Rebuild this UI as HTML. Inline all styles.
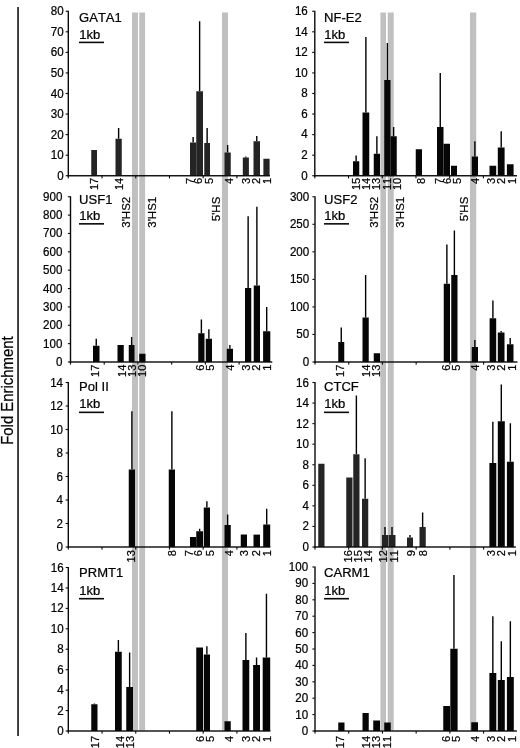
<!DOCTYPE html>
<html lang="en"><head><meta charset="utf-8"><title>Fold Enrichment</title>
<style>html,body{margin:0;padding:0;background:#fff}svg{display:block;will-change:transform}text{stroke:#000;stroke-width:0.22px;font-kerning:none}</style>
</head><body>
<svg width="520" height="748" viewBox="0 0 520 748" font-family='"Liberation Sans", Arial, sans-serif' fill="#000">
<rect width="520" height="748" fill="#fff"/>
<rect x="17.2" y="7" width="1.7" height="729" fill="#222"/>
<text transform="translate(13.4,390.6) scale(1.06,1) rotate(-90)" text-anchor="middle" font-size="14.9">Fold Enrichment</text>
<rect x="132" y="12.5" width="6" height="717.8" fill="#c0c0c0"/>
<rect x="139.2" y="12.5" width="5.900000000000006" height="717.8" fill="#c0c0c0"/>
<rect x="222" y="12.5" width="6" height="717.8" fill="#c0c0c0"/>
<rect x="380.4" y="12.5" width="5.600000000000023" height="717.8" fill="#c0c0c0"/>
<rect x="387.75" y="12.5" width="6.0" height="717.8" fill="#c0c0c0"/>
<rect x="470" y="12.5" width="6.25" height="717.8" fill="#c0c0c0"/>
<g>
<rect x="91.25" y="150" width="5.75" height="25.75" fill="#242424"/>
<rect x="117.92" y="128" width="1.4" height="10.75" fill="#000"/>
<rect x="115.5" y="138.75" width="6.25" height="37.00" fill="#242424"/>
<rect x="192.43" y="137" width="1.4" height="5.50" fill="#000"/>
<rect x="190" y="142.5" width="6.25" height="33.25" fill="#242424"/>
<rect x="198.93" y="21.25" width="1.4" height="70.00" fill="#000"/>
<rect x="196.25" y="91.25" width="6.75" height="84.50" fill="#242424"/>
<rect x="206.43" y="128" width="1.4" height="15.00" fill="#000"/>
<rect x="204.25" y="143" width="5.75" height="32.75" fill="#242424"/>
<rect x="226.93" y="145" width="1.4" height="7.50" fill="#000"/>
<rect x="224.5" y="152.5" width="6.25" height="23.25" fill="#242424"/>
<rect x="245.15" y="156.5" width="1.4" height="1.00" fill="#000"/>
<rect x="242.8" y="157.5" width="6.10" height="18.25" fill="#242424"/>
<rect x="256.05" y="136" width="1.4" height="5.25" fill="#000"/>
<rect x="253.5" y="141.25" width="6.50" height="34.50" fill="#242424"/>
<rect x="263.4" y="158.75" width="6.20" height="17.00" fill="#242424"/>
<rect x="67.60" y="10.75" width="1.4" height="165.7" fill="#0a0a0a"/>
<rect x="67.60" y="175.05" width="202.40" height="1.4" fill="#0a0a0a"/>
<rect x="65.70" y="175.20" width="2.3" height="1.1" fill="#0a0a0a"/>
<text transform="translate(63.70,179.75) scale(0.965,1)" text-anchor="end" font-size="12.0">0</text>
<rect x="65.70" y="154.64" width="2.3" height="1.1" fill="#0a0a0a"/>
<text transform="translate(63.70,159.18) scale(0.965,1)" text-anchor="end" font-size="12.0">10</text>
<rect x="65.70" y="134.07" width="2.3" height="1.1" fill="#0a0a0a"/>
<text transform="translate(63.70,138.62) scale(0.965,1)" text-anchor="end" font-size="12.0">20</text>
<rect x="65.70" y="113.51" width="2.3" height="1.1" fill="#0a0a0a"/>
<text transform="translate(63.70,118.06) scale(0.965,1)" text-anchor="end" font-size="12.0">30</text>
<rect x="65.70" y="92.95" width="2.3" height="1.1" fill="#0a0a0a"/>
<text transform="translate(63.70,97.50) scale(0.965,1)" text-anchor="end" font-size="12.0">40</text>
<rect x="65.70" y="72.39" width="2.3" height="1.1" fill="#0a0a0a"/>
<text transform="translate(63.70,76.93) scale(0.965,1)" text-anchor="end" font-size="12.0">50</text>
<rect x="65.70" y="51.83" width="2.3" height="1.1" fill="#0a0a0a"/>
<text transform="translate(63.70,56.37) scale(0.965,1)" text-anchor="end" font-size="12.0">60</text>
<rect x="65.70" y="31.26" width="2.3" height="1.1" fill="#0a0a0a"/>
<text transform="translate(63.70,35.81) scale(0.965,1)" text-anchor="end" font-size="12.0">70</text>
<rect x="65.70" y="10.70" width="2.3" height="1.1" fill="#0a0a0a"/>
<text transform="translate(63.70,15.25) scale(0.965,1)" text-anchor="end" font-size="12.0">80</text>
<rect x="67.75" y="175.75" width="1.1" height="2.6" fill="#0a0a0a"/>
<rect x="101.47" y="175.75" width="1.1" height="2.6" fill="#0a0a0a"/>
<rect x="135.19" y="175.75" width="1.1" height="2.6" fill="#0a0a0a"/>
<rect x="168.91" y="175.75" width="1.1" height="2.6" fill="#0a0a0a"/>
<rect x="202.63" y="175.75" width="1.1" height="2.6" fill="#0a0a0a"/>
<rect x="236.35" y="175.75" width="1.1" height="2.6" fill="#0a0a0a"/>
<text transform="translate(98.47,177.75) rotate(-90) scale(1.0,1)" text-anchor="end" font-size="11.1">17</text>
<text transform="translate(123.37,177.75) rotate(-90) scale(1.0,1)" text-anchor="end" font-size="11.1">14</text>
<text transform="translate(193.77,177.75) rotate(-90) scale(1.0,1)" text-anchor="end" font-size="11.1">7</text>
<text transform="translate(202.47,177.75) rotate(-90) scale(1.0,1)" text-anchor="end" font-size="11.1">6</text>
<text transform="translate(213.27,177.75) rotate(-90) scale(1.0,1)" text-anchor="end" font-size="11.1">5</text>
<text transform="translate(233.47,177.75) rotate(-90) scale(1.0,1)" text-anchor="end" font-size="11.1">4</text>
<text transform="translate(249.77,177.75) rotate(-90) scale(1.0,1)" text-anchor="end" font-size="11.1">3</text>
<text transform="translate(259.77,177.75) rotate(-90) scale(1.0,1)" text-anchor="end" font-size="11.1">2</text>
<text transform="translate(270.97,177.75) rotate(-90) scale(1.0,1)" text-anchor="end" font-size="11.1">1</text>
<text transform="translate(79.1,22.05) scale(1.06,1)" font-size="12.3">GATA1</text>
<text transform="translate(79.3,39.1) scale(1.06,1)" font-size="12.3">1kb</text>
<rect x="79.0" y="41.6" width="25" height="1.6" fill="#0a0a0a"/>
</g>
<g>
<rect x="355.43" y="155.5" width="1.4" height="5.75" fill="#000"/>
<rect x="353" y="161.25" width="6.25" height="14.50" fill="#060606"/>
<rect x="365.18" y="37" width="1.4" height="75.50" fill="#000"/>
<rect x="362.5" y="112.5" width="6.75" height="63.25" fill="#060606"/>
<rect x="376.18" y="136.25" width="1.4" height="17.50" fill="#000"/>
<rect x="373.75" y="153.75" width="6.25" height="22.00" fill="#060606"/>
<rect x="386.68" y="43" width="1.4" height="37.00" fill="#000"/>
<rect x="384.25" y="80" width="6.25" height="95.75" fill="#060606"/>
<rect x="392.93" y="127" width="1.4" height="9.25" fill="#000"/>
<rect x="390.5" y="136.25" width="6.25" height="39.50" fill="#060606"/>
<rect x="415.75" y="149.25" width="6.25" height="26.50" fill="#060606"/>
<rect x="439.55" y="73" width="1.4" height="54.00" fill="#000"/>
<rect x="437" y="127" width="6.50" height="48.75" fill="#060606"/>
<rect x="443.5" y="143.75" width="6.50" height="32.00" fill="#060606"/>
<rect x="451" y="165.75" width="6.00" height="10.00" fill="#060606"/>
<rect x="474.18" y="141.25" width="1.4" height="15.25" fill="#000"/>
<rect x="471.75" y="156.5" width="6.25" height="19.25" fill="#060606"/>
<rect x="489.5" y="165.75" width="6.70" height="10.00" fill="#060606"/>
<rect x="500.50" y="131.25" width="1.4" height="16.25" fill="#000"/>
<rect x="497.8" y="147.5" width="6.80" height="28.25" fill="#060606"/>
<rect x="506.9" y="164.25" width="6.70" height="11.50" fill="#060606"/>
<rect x="314.10" y="10.75" width="1.4" height="165.7" fill="#0a0a0a"/>
<rect x="314.10" y="175.05" width="202.90" height="1.4" fill="#0a0a0a"/>
<rect x="312.20" y="175.20" width="2.3" height="1.1" fill="#0a0a0a"/>
<text transform="translate(307.80,179.55) scale(0.965,1)" text-anchor="end" font-size="12.0">0</text>
<rect x="312.20" y="154.64" width="2.3" height="1.1" fill="#0a0a0a"/>
<text transform="translate(307.80,158.98) scale(0.965,1)" text-anchor="end" font-size="12.0">2</text>
<rect x="312.20" y="134.07" width="2.3" height="1.1" fill="#0a0a0a"/>
<text transform="translate(307.80,138.42) scale(0.965,1)" text-anchor="end" font-size="12.0">4</text>
<rect x="312.20" y="113.51" width="2.3" height="1.1" fill="#0a0a0a"/>
<text transform="translate(307.80,117.86) scale(0.965,1)" text-anchor="end" font-size="12.0">6</text>
<rect x="312.20" y="92.95" width="2.3" height="1.1" fill="#0a0a0a"/>
<text transform="translate(307.80,97.30) scale(0.965,1)" text-anchor="end" font-size="12.0">8</text>
<rect x="312.20" y="72.39" width="2.3" height="1.1" fill="#0a0a0a"/>
<text transform="translate(307.80,76.73) scale(0.965,1)" text-anchor="end" font-size="12.0">10</text>
<rect x="312.20" y="51.83" width="2.3" height="1.1" fill="#0a0a0a"/>
<text transform="translate(307.80,56.17) scale(0.965,1)" text-anchor="end" font-size="12.0">12</text>
<rect x="312.20" y="31.26" width="2.3" height="1.1" fill="#0a0a0a"/>
<text transform="translate(307.80,35.61) scale(0.965,1)" text-anchor="end" font-size="12.0">14</text>
<rect x="312.20" y="10.70" width="2.3" height="1.1" fill="#0a0a0a"/>
<text transform="translate(307.80,15.05) scale(0.965,1)" text-anchor="end" font-size="12.0">16</text>
<rect x="314.25" y="175.75" width="1.1" height="2.6" fill="#0a0a0a"/>
<rect x="347.97" y="175.75" width="1.1" height="2.6" fill="#0a0a0a"/>
<rect x="381.69" y="175.75" width="1.1" height="2.6" fill="#0a0a0a"/>
<rect x="415.41" y="175.75" width="1.1" height="2.6" fill="#0a0a0a"/>
<rect x="449.13" y="175.75" width="1.1" height="2.6" fill="#0a0a0a"/>
<rect x="482.85" y="175.75" width="1.1" height="2.6" fill="#0a0a0a"/>
<text transform="translate(359.97,177.75) rotate(-90) scale(1.0,1)" text-anchor="end" font-size="11.1">15</text>
<text transform="translate(369.67,177.75) rotate(-90) scale(1.0,1)" text-anchor="end" font-size="11.1">14</text>
<text transform="translate(379.87,177.75) rotate(-90) scale(1.0,1)" text-anchor="end" font-size="11.1">13</text>
<text transform="translate(390.77,177.75) rotate(-90) scale(1.0,1)" text-anchor="end" font-size="11.1">11</text>
<text transform="translate(400.97,177.75) rotate(-90) scale(1.0,1)" text-anchor="end" font-size="11.1">10</text>
<text transform="translate(425.17,177.75) rotate(-90) scale(1.0,1)" text-anchor="end" font-size="11.1">8</text>
<text transform="translate(442.77,177.75) rotate(-90) scale(1.0,1)" text-anchor="end" font-size="11.1">7</text>
<text transform="translate(451.07,177.75) rotate(-90) scale(1.0,1)" text-anchor="end" font-size="11.1">6</text>
<text transform="translate(460.67,177.75) rotate(-90) scale(1.0,1)" text-anchor="end" font-size="11.1">5</text>
<text transform="translate(478.77,177.75) rotate(-90) scale(1.0,1)" text-anchor="end" font-size="11.1">4</text>
<text transform="translate(494.87,177.75) rotate(-90) scale(1.0,1)" text-anchor="end" font-size="11.1">3</text>
<text transform="translate(504.97,177.75) rotate(-90) scale(1.0,1)" text-anchor="end" font-size="11.1">2</text>
<text transform="translate(515.97,177.75) rotate(-90) scale(1.0,1)" text-anchor="end" font-size="11.1">1</text>
<text transform="translate(324.1,22.05) scale(1.06,1)" font-size="12.3">NF-E2</text>
<text transform="translate(324.3,39.1) scale(1.06,1)" font-size="12.3">1kb</text>
<rect x="324.0" y="41.6" width="25" height="1.6" fill="#0a0a0a"/>
</g>
<g>
<rect x="95.55" y="338.75" width="1.4" height="7.00" fill="#000"/>
<rect x="93" y="345.75" width="6.50" height="16.25" fill="#060606"/>
<rect x="117.5" y="345" width="6.25" height="17.00" fill="#060606"/>
<rect x="130.93" y="337" width="1.4" height="8.00" fill="#000"/>
<rect x="128.75" y="345" width="5.75" height="17.00" fill="#060606"/>
<rect x="139.25" y="353.75" width="6.25" height="8.25" fill="#060606"/>
<rect x="200.68" y="319.5" width="1.4" height="13.75" fill="#000"/>
<rect x="198.25" y="333.25" width="6.25" height="28.75" fill="#060606"/>
<rect x="208.18" y="329.25" width="1.4" height="9.50" fill="#000"/>
<rect x="205.75" y="338.75" width="6.25" height="23.25" fill="#060606"/>
<rect x="229.18" y="345" width="1.4" height="3.75" fill="#000"/>
<rect x="226.75" y="348.75" width="6.25" height="13.25" fill="#060606"/>
<rect x="247.43" y="216.25" width="1.4" height="71.75" fill="#000"/>
<rect x="245" y="288" width="6.25" height="74.00" fill="#060606"/>
<rect x="256.18" y="206.75" width="1.4" height="78.75" fill="#000"/>
<rect x="253.75" y="285.5" width="6.25" height="76.50" fill="#060606"/>
<rect x="266.00" y="307" width="1.4" height="24.25" fill="#000"/>
<rect x="263.1" y="331.25" width="7.20" height="30.75" fill="#060606"/>
<rect x="69.80" y="196.25" width="1.4" height="166.45" fill="#0a0a0a"/>
<rect x="69.80" y="361.3" width="202.50" height="1.4" fill="#0a0a0a"/>
<rect x="67.90" y="361.45" width="2.3" height="1.1" fill="#0a0a0a"/>
<text transform="translate(62.40,366.00) scale(0.965,1)" text-anchor="end" font-size="12.0">0</text>
<rect x="67.90" y="343.09" width="2.3" height="1.1" fill="#0a0a0a"/>
<text transform="translate(62.40,347.63) scale(0.965,1)" text-anchor="end" font-size="12.0">100</text>
<rect x="67.90" y="324.73" width="2.3" height="1.1" fill="#0a0a0a"/>
<text transform="translate(62.40,329.27) scale(0.965,1)" text-anchor="end" font-size="12.0">200</text>
<rect x="67.90" y="306.37" width="2.3" height="1.1" fill="#0a0a0a"/>
<text transform="translate(62.40,310.91) scale(0.965,1)" text-anchor="end" font-size="12.0">300</text>
<rect x="67.90" y="288.01" width="2.3" height="1.1" fill="#0a0a0a"/>
<text transform="translate(62.40,292.55) scale(0.965,1)" text-anchor="end" font-size="12.0">400</text>
<rect x="67.90" y="269.64" width="2.3" height="1.1" fill="#0a0a0a"/>
<text transform="translate(62.40,274.19) scale(0.965,1)" text-anchor="end" font-size="12.0">500</text>
<rect x="67.90" y="251.28" width="2.3" height="1.1" fill="#0a0a0a"/>
<text transform="translate(62.40,255.83) scale(0.965,1)" text-anchor="end" font-size="12.0">600</text>
<rect x="67.90" y="232.92" width="2.3" height="1.1" fill="#0a0a0a"/>
<text transform="translate(62.40,237.47) scale(0.965,1)" text-anchor="end" font-size="12.0">700</text>
<rect x="67.90" y="214.56" width="2.3" height="1.1" fill="#0a0a0a"/>
<text transform="translate(62.40,219.11) scale(0.965,1)" text-anchor="end" font-size="12.0">800</text>
<rect x="67.90" y="196.20" width="2.3" height="1.1" fill="#0a0a0a"/>
<text transform="translate(62.40,200.75) scale(0.965,1)" text-anchor="end" font-size="12.0">900</text>
<rect x="69.95" y="362" width="1.1" height="2.6" fill="#0a0a0a"/>
<rect x="103.67" y="362" width="1.1" height="2.6" fill="#0a0a0a"/>
<rect x="137.39" y="362" width="1.1" height="2.6" fill="#0a0a0a"/>
<rect x="171.11" y="362" width="1.1" height="2.6" fill="#0a0a0a"/>
<rect x="204.83" y="362" width="1.1" height="2.6" fill="#0a0a0a"/>
<rect x="238.55" y="362" width="1.1" height="2.6" fill="#0a0a0a"/>
<text transform="translate(99.37,364.7) rotate(-90) scale(1.0,1)" text-anchor="end" font-size="11.1">17</text>
<text transform="translate(125.57,364.7) rotate(-90) scale(1.0,1)" text-anchor="end" font-size="11.1">14</text>
<text transform="translate(135.87,364.7) rotate(-90) scale(1.0,1)" text-anchor="end" font-size="11.1">13</text>
<text transform="translate(146.47,364.7) rotate(-90) scale(1.0,1)" text-anchor="end" font-size="11.1">10</text>
<text transform="translate(204.17,364.7) rotate(-90) scale(1.0,1)" text-anchor="end" font-size="11.1">6</text>
<text transform="translate(214.27,364.7) rotate(-90) scale(1.0,1)" text-anchor="end" font-size="11.1">5</text>
<text transform="translate(233.67,364.7) rotate(-90) scale(1.0,1)" text-anchor="end" font-size="11.1">4</text>
<text transform="translate(250.17,364.7) rotate(-90) scale(1.0,1)" text-anchor="end" font-size="11.1">3</text>
<text transform="translate(260.37,364.7) rotate(-90) scale(1.0,1)" text-anchor="end" font-size="11.1">2</text>
<text transform="translate(271.07,364.7) rotate(-90) scale(1.0,1)" text-anchor="end" font-size="11.1">1</text>
<text transform="translate(79.1,203.65) scale(1.06,1)" font-size="12.3">USF1</text>
<text transform="translate(79.3,219.9) scale(1.06,1)" font-size="12.3">1kb</text>
<rect x="79.0" y="223.04999999999998" width="25" height="1.6" fill="#0a0a0a"/>
</g>
<g>
<rect x="340.55" y="327.5" width="1.4" height="14.50" fill="#000"/>
<rect x="338.25" y="342" width="6.00" height="20.00" fill="#060606"/>
<rect x="364.93" y="275" width="1.4" height="42.50" fill="#000"/>
<rect x="362.5" y="317.5" width="6.25" height="44.50" fill="#060606"/>
<rect x="373.75" y="353.25" width="6.25" height="8.75" fill="#060606"/>
<rect x="446.18" y="244.5" width="1.4" height="39.25" fill="#000"/>
<rect x="443.75" y="283.75" width="6.25" height="78.25" fill="#060606"/>
<rect x="453.68" y="230.5" width="1.4" height="44.50" fill="#000"/>
<rect x="451.25" y="275" width="6.25" height="87.00" fill="#060606"/>
<rect x="474.18" y="340" width="1.4" height="7.00" fill="#000"/>
<rect x="471.75" y="347" width="6.25" height="15.00" fill="#060606"/>
<rect x="492.20" y="300.5" width="1.4" height="17.75" fill="#000"/>
<rect x="489.6" y="318.25" width="6.60" height="43.75" fill="#060606"/>
<rect x="500.45" y="331" width="1.4" height="1.50" fill="#000"/>
<rect x="497.8" y="332.5" width="6.70" height="29.50" fill="#060606"/>
<rect x="509.50" y="338" width="1.4" height="6.25" fill="#000"/>
<rect x="506.9" y="344.25" width="6.60" height="17.75" fill="#060606"/>
<rect x="314.30" y="196.25" width="1.4" height="166.45" fill="#0a0a0a"/>
<rect x="314.30" y="361.3" width="203.20" height="1.4" fill="#0a0a0a"/>
<rect x="312.40" y="361.45" width="2.3" height="1.1" fill="#0a0a0a"/>
<text transform="translate(309.20,366.00) scale(0.965,1)" text-anchor="end" font-size="12.0">0</text>
<rect x="312.40" y="333.91" width="2.3" height="1.1" fill="#0a0a0a"/>
<text transform="translate(309.20,338.45) scale(0.965,1)" text-anchor="end" font-size="12.0">50</text>
<rect x="312.40" y="306.37" width="2.3" height="1.1" fill="#0a0a0a"/>
<text transform="translate(309.20,310.91) scale(0.965,1)" text-anchor="end" font-size="12.0">100</text>
<rect x="312.40" y="278.82" width="2.3" height="1.1" fill="#0a0a0a"/>
<text transform="translate(309.20,283.37) scale(0.965,1)" text-anchor="end" font-size="12.0">150</text>
<rect x="312.40" y="251.28" width="2.3" height="1.1" fill="#0a0a0a"/>
<text transform="translate(309.20,255.83) scale(0.965,1)" text-anchor="end" font-size="12.0">200</text>
<rect x="312.40" y="223.74" width="2.3" height="1.1" fill="#0a0a0a"/>
<text transform="translate(309.20,228.29) scale(0.965,1)" text-anchor="end" font-size="12.0">250</text>
<rect x="312.40" y="196.20" width="2.3" height="1.1" fill="#0a0a0a"/>
<text transform="translate(309.20,200.75) scale(0.965,1)" text-anchor="end" font-size="12.0">300</text>
<rect x="314.45" y="362" width="1.1" height="2.6" fill="#0a0a0a"/>
<rect x="348.17" y="362" width="1.1" height="2.6" fill="#0a0a0a"/>
<rect x="381.89" y="362" width="1.1" height="2.6" fill="#0a0a0a"/>
<rect x="415.61" y="362" width="1.1" height="2.6" fill="#0a0a0a"/>
<rect x="449.33" y="362" width="1.1" height="2.6" fill="#0a0a0a"/>
<rect x="483.05" y="362" width="1.1" height="2.6" fill="#0a0a0a"/>
<text transform="translate(344.47,364.7) rotate(-90) scale(1.0,1)" text-anchor="end" font-size="11.1">17</text>
<text transform="translate(370.27,364.7) rotate(-90) scale(1.0,1)" text-anchor="end" font-size="11.1">14</text>
<text transform="translate(380.37,364.7) rotate(-90) scale(1.0,1)" text-anchor="end" font-size="11.1">13</text>
<text transform="translate(449.97,364.7) rotate(-90) scale(1.0,1)" text-anchor="end" font-size="11.1">6</text>
<text transform="translate(459.97,364.7) rotate(-90) scale(1.0,1)" text-anchor="end" font-size="11.1">5</text>
<text transform="translate(478.77,364.7) rotate(-90) scale(1.0,1)" text-anchor="end" font-size="11.1">4</text>
<text transform="translate(494.87,364.7) rotate(-90) scale(1.0,1)" text-anchor="end" font-size="11.1">3</text>
<text transform="translate(504.97,364.7) rotate(-90) scale(1.0,1)" text-anchor="end" font-size="11.1">2</text>
<text transform="translate(515.97,364.7) rotate(-90) scale(1.0,1)" text-anchor="end" font-size="11.1">1</text>
<text transform="translate(324.1,203.65) scale(1.06,1)" font-size="12.3">USF2</text>
<text transform="translate(324.3,219.9) scale(1.06,1)" font-size="12.3">1kb</text>
<rect x="324.0" y="223.04999999999998" width="25" height="1.6" fill="#0a0a0a"/>
</g>
<g>
<rect x="131.18" y="411.25" width="1.4" height="58.25" fill="#000"/>
<rect x="128.75" y="469.5" width="6.25" height="77.50" fill="#060606"/>
<rect x="171.18" y="411.25" width="1.4" height="58.25" fill="#000"/>
<rect x="168.75" y="469.5" width="6.25" height="77.50" fill="#060606"/>
<rect x="190" y="537" width="6.25" height="10.00" fill="#060606"/>
<rect x="198.93" y="528.75" width="1.4" height="2.50" fill="#000"/>
<rect x="196.25" y="531.25" width="6.75" height="15.75" fill="#060606"/>
<rect x="206.18" y="501.25" width="1.4" height="6.25" fill="#000"/>
<rect x="203.75" y="507.5" width="6.25" height="39.50" fill="#060606"/>
<rect x="226.93" y="514.5" width="1.4" height="10.50" fill="#000"/>
<rect x="224.5" y="525" width="6.25" height="22.00" fill="#060606"/>
<rect x="240.75" y="534.5" width="6.25" height="12.50" fill="#060606"/>
<rect x="253.5" y="534.6" width="6.50" height="12.40" fill="#060606"/>
<rect x="266.00" y="508.75" width="1.4" height="15.75" fill="#000"/>
<rect x="263.2" y="524.5" width="7.00" height="22.50" fill="#060606"/>
<rect x="67.60" y="382.0" width="1.4" height="165.7" fill="#0a0a0a"/>
<rect x="67.60" y="546.3" width="202.80" height="1.4" fill="#0a0a0a"/>
<rect x="65.70" y="546.45" width="2.3" height="1.1" fill="#0a0a0a"/>
<text transform="translate(63.00,551.00) scale(0.965,1)" text-anchor="end" font-size="12.0">0</text>
<rect x="65.70" y="522.95" width="2.3" height="1.1" fill="#0a0a0a"/>
<text transform="translate(63.00,527.50) scale(0.965,1)" text-anchor="end" font-size="12.0">2</text>
<rect x="65.70" y="499.45" width="2.3" height="1.1" fill="#0a0a0a"/>
<text transform="translate(63.00,504.00) scale(0.965,1)" text-anchor="end" font-size="12.0">4</text>
<rect x="65.70" y="475.95" width="2.3" height="1.1" fill="#0a0a0a"/>
<text transform="translate(63.00,480.50) scale(0.965,1)" text-anchor="end" font-size="12.0">6</text>
<rect x="65.70" y="452.45" width="2.3" height="1.1" fill="#0a0a0a"/>
<text transform="translate(63.00,457.00) scale(0.965,1)" text-anchor="end" font-size="12.0">8</text>
<rect x="65.70" y="428.95" width="2.3" height="1.1" fill="#0a0a0a"/>
<text transform="translate(63.00,433.50) scale(0.965,1)" text-anchor="end" font-size="12.0">10</text>
<rect x="65.70" y="405.45" width="2.3" height="1.1" fill="#0a0a0a"/>
<text transform="translate(63.00,410.00) scale(0.965,1)" text-anchor="end" font-size="12.0">12</text>
<rect x="65.70" y="381.95" width="2.3" height="1.1" fill="#0a0a0a"/>
<text transform="translate(63.00,386.50) scale(0.965,1)" text-anchor="end" font-size="12.0">14</text>
<rect x="67.75" y="547" width="1.1" height="2.6" fill="#0a0a0a"/>
<rect x="101.47" y="547" width="1.1" height="2.6" fill="#0a0a0a"/>
<rect x="135.19" y="547" width="1.1" height="2.6" fill="#0a0a0a"/>
<rect x="168.91" y="547" width="1.1" height="2.6" fill="#0a0a0a"/>
<rect x="202.63" y="547" width="1.1" height="2.6" fill="#0a0a0a"/>
<rect x="236.35" y="547" width="1.1" height="2.6" fill="#0a0a0a"/>
<text transform="translate(135.47,550.2) rotate(-90) scale(1.0,1)" text-anchor="end" font-size="11.1">13</text>
<text transform="translate(176.07,550.2) rotate(-90) scale(1.0,1)" text-anchor="end" font-size="11.1">8</text>
<text transform="translate(193.47,550.2) rotate(-90) scale(1.0,1)" text-anchor="end" font-size="11.1">7</text>
<text transform="translate(202.47,550.2) rotate(-90) scale(1.0,1)" text-anchor="end" font-size="11.1">6</text>
<text transform="translate(213.57,550.2) rotate(-90) scale(1.0,1)" text-anchor="end" font-size="11.1">5</text>
<text transform="translate(233.27,550.2) rotate(-90) scale(1.0,1)" text-anchor="end" font-size="11.1">4</text>
<text transform="translate(248.47,550.2) rotate(-90) scale(1.0,1)" text-anchor="end" font-size="11.1">3</text>
<text transform="translate(259.57,550.2) rotate(-90) scale(1.0,1)" text-anchor="end" font-size="11.1">2</text>
<text transform="translate(271.17,550.2) rotate(-90) scale(1.0,1)" text-anchor="end" font-size="11.1">1</text>
<text transform="translate(79.1,391.05) scale(1.06,1)" font-size="12.3">Pol II</text>
<text transform="translate(79.3,408.0) scale(1.06,1)" font-size="12.3">1kb</text>
<rect x="79.0" y="411.55" width="25" height="1.6" fill="#0a0a0a"/>
</g>
<g>
<rect x="318.25" y="463.75" width="6.25" height="83.25" fill="#242424"/>
<rect x="346.25" y="477.5" width="6.25" height="69.50" fill="#242424"/>
<rect x="355.68" y="395.5" width="1.4" height="58.75" fill="#000"/>
<rect x="353.25" y="454.25" width="6.25" height="92.75" fill="#242424"/>
<rect x="364.43" y="458.25" width="1.4" height="40.50" fill="#000"/>
<rect x="362" y="498.75" width="6.25" height="48.25" fill="#242424"/>
<rect x="384.30" y="527" width="1.4" height="8.00" fill="#000"/>
<rect x="382" y="535" width="6.00" height="12.00" fill="#242424"/>
<rect x="391.30" y="527" width="1.4" height="8.00" fill="#000"/>
<rect x="388.5" y="535" width="7.00" height="12.00" fill="#242424"/>
<rect x="409.30" y="535" width="1.4" height="2.50" fill="#000"/>
<rect x="407" y="537.5" width="6.00" height="9.50" fill="#242424"/>
<rect x="421.93" y="512.5" width="1.4" height="14.50" fill="#000"/>
<rect x="419.5" y="527" width="6.25" height="20.00" fill="#242424"/>
<rect x="492.15" y="421.75" width="1.4" height="41.25" fill="#000"/>
<rect x="489.4" y="463" width="6.90" height="84.00" fill="#060606"/>
<rect x="500.60" y="384.5" width="1.4" height="36.75" fill="#000"/>
<rect x="497.8" y="421.25" width="7.00" height="125.75" fill="#060606"/>
<rect x="509.65" y="423.25" width="1.4" height="38.50" fill="#000"/>
<rect x="506.9" y="461.75" width="6.90" height="85.25" fill="#060606"/>
<rect x="314.30" y="382.0" width="1.4" height="165.7" fill="#0a0a0a"/>
<rect x="314.30" y="546.3" width="201.50" height="1.4" fill="#0a0a0a"/>
<rect x="312.40" y="546.45" width="2.3" height="1.1" fill="#0a0a0a"/>
<text transform="translate(308.90,551.00) scale(0.965,1)" text-anchor="end" font-size="12.0">0</text>
<rect x="312.40" y="525.89" width="2.3" height="1.1" fill="#0a0a0a"/>
<text transform="translate(308.90,530.43) scale(0.965,1)" text-anchor="end" font-size="12.0">2</text>
<rect x="312.40" y="505.32" width="2.3" height="1.1" fill="#0a0a0a"/>
<text transform="translate(308.90,509.87) scale(0.965,1)" text-anchor="end" font-size="12.0">4</text>
<rect x="312.40" y="484.76" width="2.3" height="1.1" fill="#0a0a0a"/>
<text transform="translate(308.90,489.31) scale(0.965,1)" text-anchor="end" font-size="12.0">6</text>
<rect x="312.40" y="464.20" width="2.3" height="1.1" fill="#0a0a0a"/>
<text transform="translate(308.90,468.75) scale(0.965,1)" text-anchor="end" font-size="12.0">8</text>
<rect x="312.40" y="443.64" width="2.3" height="1.1" fill="#0a0a0a"/>
<text transform="translate(308.90,448.18) scale(0.965,1)" text-anchor="end" font-size="12.0">10</text>
<rect x="312.40" y="423.07" width="2.3" height="1.1" fill="#0a0a0a"/>
<text transform="translate(308.90,427.62) scale(0.965,1)" text-anchor="end" font-size="12.0">12</text>
<rect x="312.40" y="402.51" width="2.3" height="1.1" fill="#0a0a0a"/>
<text transform="translate(308.90,407.06) scale(0.965,1)" text-anchor="end" font-size="12.0">14</text>
<rect x="312.40" y="381.95" width="2.3" height="1.1" fill="#0a0a0a"/>
<text transform="translate(308.90,386.50) scale(0.965,1)" text-anchor="end" font-size="12.0">16</text>
<rect x="314.45" y="547" width="1.1" height="2.6" fill="#0a0a0a"/>
<rect x="348.17" y="547" width="1.1" height="2.6" fill="#0a0a0a"/>
<rect x="381.89" y="547" width="1.1" height="2.6" fill="#0a0a0a"/>
<rect x="415.61" y="547" width="1.1" height="2.6" fill="#0a0a0a"/>
<rect x="449.33" y="547" width="1.1" height="2.6" fill="#0a0a0a"/>
<rect x="483.05" y="547" width="1.1" height="2.6" fill="#0a0a0a"/>
<text transform="translate(351.97,550.2) rotate(-90) scale(1.0,1)" text-anchor="end" font-size="11.1">16</text>
<text transform="translate(361.57,550.2) rotate(-90) scale(1.0,1)" text-anchor="end" font-size="11.1">15</text>
<text transform="translate(371.97,550.2) rotate(-90) scale(1.0,1)" text-anchor="end" font-size="11.1">14</text>
<text transform="translate(387.17,550.2) rotate(-90) scale(1.0,1)" text-anchor="end" font-size="11.1">12</text>
<text transform="translate(397.67,550.2) rotate(-90) scale(1.0,1)" text-anchor="end" font-size="11.1">11</text>
<text transform="translate(414.57,550.2) rotate(-90) scale(1.0,1)" text-anchor="end" font-size="11.1">9</text>
<text transform="translate(426.97,550.2) rotate(-90) scale(1.0,1)" text-anchor="end" font-size="11.1">8</text>
<text transform="translate(494.87,550.2) rotate(-90) scale(1.0,1)" text-anchor="end" font-size="11.1">3</text>
<text transform="translate(504.97,550.2) rotate(-90) scale(1.0,1)" text-anchor="end" font-size="11.1">2</text>
<text transform="translate(515.97,550.2) rotate(-90) scale(1.0,1)" text-anchor="end" font-size="11.1">1</text>
<text transform="translate(324.1,391.05) scale(1.06,1)" font-size="12.3">CTCF</text>
<text transform="translate(324.3,408.0) scale(1.06,1)" font-size="12.3">1kb</text>
<rect x="324.0" y="411.55" width="25" height="1.6" fill="#0a0a0a"/>
</g>
<g>
<rect x="93.67" y="703.5" width="1.4" height="0.75" fill="#000"/>
<rect x="91.25" y="704.25" width="6.25" height="26.75" fill="#060606"/>
<rect x="117.67" y="640" width="1.4" height="11.75" fill="#000"/>
<rect x="115" y="651.75" width="6.75" height="79.25" fill="#060606"/>
<rect x="128.93" y="652.5" width="1.4" height="34.50" fill="#000"/>
<rect x="126.25" y="687" width="6.75" height="44.00" fill="#060606"/>
<rect x="196.25" y="647.5" width="6.75" height="83.50" fill="#060606"/>
<rect x="206.18" y="646.25" width="1.4" height="8.25" fill="#000"/>
<rect x="203.75" y="654.5" width="6.25" height="76.50" fill="#060606"/>
<rect x="224.5" y="721.25" width="6.25" height="9.75" fill="#060606"/>
<rect x="245.18" y="633" width="1.4" height="27.00" fill="#000"/>
<rect x="242.5" y="660" width="6.75" height="71.00" fill="#060606"/>
<rect x="255.85" y="657.5" width="1.4" height="7.50" fill="#000"/>
<rect x="253.1" y="665" width="6.90" height="66.00" fill="#060606"/>
<rect x="265.75" y="593.75" width="1.4" height="63.75" fill="#000"/>
<rect x="262.7" y="657.5" width="7.50" height="73.50" fill="#060606"/>
<rect x="67.60" y="567.0" width="1.4" height="164.7" fill="#0a0a0a"/>
<rect x="67.60" y="730.3" width="202.80" height="1.4" fill="#0a0a0a"/>
<rect x="65.70" y="730.45" width="2.3" height="1.1" fill="#0a0a0a"/>
<text transform="translate(63.70,735.00) scale(0.965,1)" text-anchor="end" font-size="12.0">0</text>
<rect x="65.70" y="710.01" width="2.3" height="1.1" fill="#0a0a0a"/>
<text transform="translate(63.70,714.56) scale(0.965,1)" text-anchor="end" font-size="12.0">2</text>
<rect x="65.70" y="689.58" width="2.3" height="1.1" fill="#0a0a0a"/>
<text transform="translate(63.70,694.12) scale(0.965,1)" text-anchor="end" font-size="12.0">4</text>
<rect x="65.70" y="669.14" width="2.3" height="1.1" fill="#0a0a0a"/>
<text transform="translate(63.70,673.68) scale(0.965,1)" text-anchor="end" font-size="12.0">6</text>
<rect x="65.70" y="648.70" width="2.3" height="1.1" fill="#0a0a0a"/>
<text transform="translate(63.70,653.25) scale(0.965,1)" text-anchor="end" font-size="12.0">8</text>
<rect x="65.70" y="628.26" width="2.3" height="1.1" fill="#0a0a0a"/>
<text transform="translate(63.70,632.81) scale(0.965,1)" text-anchor="end" font-size="12.0">10</text>
<rect x="65.70" y="607.83" width="2.3" height="1.1" fill="#0a0a0a"/>
<text transform="translate(63.70,612.37) scale(0.965,1)" text-anchor="end" font-size="12.0">12</text>
<rect x="65.70" y="587.39" width="2.3" height="1.1" fill="#0a0a0a"/>
<text transform="translate(63.70,591.93) scale(0.965,1)" text-anchor="end" font-size="12.0">14</text>
<rect x="65.70" y="566.95" width="2.3" height="1.1" fill="#0a0a0a"/>
<text transform="translate(63.70,571.50) scale(0.965,1)" text-anchor="end" font-size="12.0">16</text>
<rect x="67.75" y="731" width="1.1" height="2.6" fill="#0a0a0a"/>
<rect x="101.47" y="731" width="1.1" height="2.6" fill="#0a0a0a"/>
<rect x="135.19" y="731" width="1.1" height="2.6" fill="#0a0a0a"/>
<rect x="168.91" y="731" width="1.1" height="2.6" fill="#0a0a0a"/>
<rect x="202.63" y="731" width="1.1" height="2.6" fill="#0a0a0a"/>
<rect x="236.35" y="731" width="1.1" height="2.6" fill="#0a0a0a"/>
<text transform="translate(99.17,735.8) rotate(-90) scale(1.0,1)" text-anchor="end" font-size="11.1">17</text>
<text transform="translate(123.67,735.8) rotate(-90) scale(1.0,1)" text-anchor="end" font-size="11.1">14</text>
<text transform="translate(133.77,735.8) rotate(-90) scale(1.0,1)" text-anchor="end" font-size="11.1">13</text>
<text transform="translate(204.17,735.8) rotate(-90) scale(1.0,1)" text-anchor="end" font-size="11.1">6</text>
<text transform="translate(214.27,735.8) rotate(-90) scale(1.0,1)" text-anchor="end" font-size="11.1">5</text>
<text transform="translate(233.47,735.8) rotate(-90) scale(1.0,1)" text-anchor="end" font-size="11.1">4</text>
<text transform="translate(250.17,735.8) rotate(-90) scale(1.0,1)" text-anchor="end" font-size="11.1">3</text>
<text transform="translate(260.37,735.8) rotate(-90) scale(1.0,1)" text-anchor="end" font-size="11.1">2</text>
<text transform="translate(271.17,735.8) rotate(-90) scale(1.0,1)" text-anchor="end" font-size="11.1">1</text>
<text transform="translate(79.1,577.35) scale(1.06,1)" font-size="12.3">PRMT1</text>
<text transform="translate(79.3,594.5) scale(1.06,1)" font-size="12.3">1kb</text>
<rect x="79.0" y="597.9000000000001" width="25" height="1.6" fill="#0a0a0a"/>
</g>
<g>
<rect x="338.25" y="722.5" width="6.25" height="8.50" fill="#060606"/>
<rect x="362.5" y="713" width="6.25" height="18.00" fill="#060606"/>
<rect x="373.25" y="720.5" width="6.75" height="10.50" fill="#060606"/>
<rect x="384.25" y="722.5" width="6.50" height="8.50" fill="#060606"/>
<rect x="443.25" y="706" width="6.75" height="25.00" fill="#060606"/>
<rect x="453.25" y="575" width="1.4" height="73.75" fill="#000"/>
<rect x="450.3" y="648.75" width="7.30" height="82.25" fill="#060606"/>
<rect x="471.25" y="722.25" width="6.75" height="8.75" fill="#060606"/>
<rect x="492.15" y="616.25" width="1.4" height="56.75" fill="#000"/>
<rect x="489.4" y="673" width="6.90" height="58.00" fill="#060606"/>
<rect x="500.60" y="641.25" width="1.4" height="38.75" fill="#000"/>
<rect x="497.8" y="680" width="7.00" height="51.00" fill="#060606"/>
<rect x="509.65" y="621.25" width="1.4" height="55.75" fill="#000"/>
<rect x="506.9" y="677" width="6.90" height="54.00" fill="#060606"/>
<rect x="314.30" y="566.5" width="1.4" height="165.2" fill="#0a0a0a"/>
<rect x="314.30" y="730.3" width="202.60" height="1.4" fill="#0a0a0a"/>
<rect x="312.40" y="730.45" width="2.3" height="1.1" fill="#0a0a0a"/>
<text transform="translate(308.10,735.00) scale(0.965,1)" text-anchor="end" font-size="12.0">0</text>
<rect x="312.40" y="714.05" width="2.3" height="1.1" fill="#0a0a0a"/>
<text transform="translate(308.10,718.60) scale(0.965,1)" text-anchor="end" font-size="12.0">10</text>
<rect x="312.40" y="697.65" width="2.3" height="1.1" fill="#0a0a0a"/>
<text transform="translate(308.10,702.20) scale(0.965,1)" text-anchor="end" font-size="12.0">20</text>
<rect x="312.40" y="681.25" width="2.3" height="1.1" fill="#0a0a0a"/>
<text transform="translate(308.10,685.80) scale(0.965,1)" text-anchor="end" font-size="12.0">30</text>
<rect x="312.40" y="664.85" width="2.3" height="1.1" fill="#0a0a0a"/>
<text transform="translate(308.10,669.40) scale(0.965,1)" text-anchor="end" font-size="12.0">40</text>
<rect x="312.40" y="648.45" width="2.3" height="1.1" fill="#0a0a0a"/>
<text transform="translate(308.10,653.00) scale(0.965,1)" text-anchor="end" font-size="12.0">50</text>
<rect x="312.40" y="632.05" width="2.3" height="1.1" fill="#0a0a0a"/>
<text transform="translate(308.10,636.60) scale(0.965,1)" text-anchor="end" font-size="12.0">60</text>
<rect x="312.40" y="615.65" width="2.3" height="1.1" fill="#0a0a0a"/>
<text transform="translate(308.10,620.20) scale(0.965,1)" text-anchor="end" font-size="12.0">70</text>
<rect x="312.40" y="599.25" width="2.3" height="1.1" fill="#0a0a0a"/>
<text transform="translate(308.10,603.80) scale(0.965,1)" text-anchor="end" font-size="12.0">80</text>
<rect x="312.40" y="582.85" width="2.3" height="1.1" fill="#0a0a0a"/>
<text transform="translate(308.10,587.40) scale(0.965,1)" text-anchor="end" font-size="12.0">90</text>
<rect x="312.40" y="566.45" width="2.3" height="1.1" fill="#0a0a0a"/>
<text transform="translate(308.10,571.00) scale(0.965,1)" text-anchor="end" font-size="12.0">100</text>
<rect x="314.45" y="731" width="1.1" height="2.6" fill="#0a0a0a"/>
<rect x="348.17" y="731" width="1.1" height="2.6" fill="#0a0a0a"/>
<rect x="381.89" y="731" width="1.1" height="2.6" fill="#0a0a0a"/>
<rect x="415.61" y="731" width="1.1" height="2.6" fill="#0a0a0a"/>
<rect x="449.33" y="731" width="1.1" height="2.6" fill="#0a0a0a"/>
<rect x="483.05" y="731" width="1.1" height="2.6" fill="#0a0a0a"/>
<text transform="translate(344.47,735.8) rotate(-90) scale(1.0,1)" text-anchor="end" font-size="11.1">17</text>
<text transform="translate(370.27,735.8) rotate(-90) scale(1.0,1)" text-anchor="end" font-size="11.1">14</text>
<text transform="translate(380.37,735.8) rotate(-90) scale(1.0,1)" text-anchor="end" font-size="11.1">13</text>
<text transform="translate(391.07,735.8) rotate(-90) scale(1.0,1)" text-anchor="end" font-size="11.1">11</text>
<text transform="translate(449.97,735.8) rotate(-90) scale(1.0,1)" text-anchor="end" font-size="11.1">6</text>
<text transform="translate(459.97,735.8) rotate(-90) scale(1.0,1)" text-anchor="end" font-size="11.1">5</text>
<text transform="translate(478.77,735.8) rotate(-90) scale(1.0,1)" text-anchor="end" font-size="11.1">4</text>
<text transform="translate(494.87,735.8) rotate(-90) scale(1.0,1)" text-anchor="end" font-size="11.1">3</text>
<text transform="translate(504.97,735.8) rotate(-90) scale(1.0,1)" text-anchor="end" font-size="11.1">2</text>
<text transform="translate(515.97,735.8) rotate(-90) scale(1.0,1)" text-anchor="end" font-size="11.1">1</text>
<text transform="translate(324.1,577.35) scale(1.06,1)" font-size="12.3">CARM1</text>
<text transform="translate(324.3,594.5) scale(1.06,1)" font-size="12.3">1kb</text>
<rect x="324.0" y="597.9000000000001" width="25" height="1.6" fill="#0a0a0a"/>
</g>
<text transform="translate(129.97,227.7) rotate(-90) scale(1.035,1)" font-size="11.1">3'HS2</text>
<text transform="translate(156.07,227.7) rotate(-90) scale(1.035,1)" font-size="11.1">3'HS1</text>
<text transform="translate(219.97,221.2) rotate(-90) scale(1.035,1)" font-size="11.1">5'HS</text>
<text transform="translate(378.27,227.7) rotate(-90) scale(1.035,1)" font-size="11.1">3'HS2</text>
<text transform="translate(403.97,227.7) rotate(-90) scale(1.035,1)" font-size="11.1">3'HS1</text>
<text transform="translate(467.72,221.2) rotate(-90) scale(1.035,1)" font-size="11.1">5'HS</text>
</svg>
</body></html>
